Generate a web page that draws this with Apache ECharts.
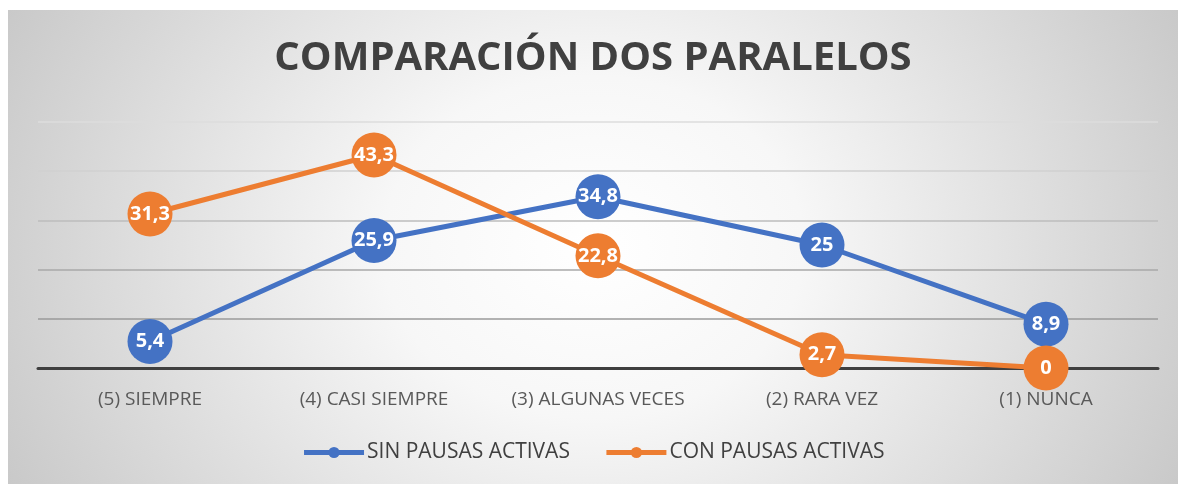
<!DOCTYPE html>
<html>
<head>
<meta charset="utf-8">
<script src="https://cdn.jsdelivr.net/npm/echarts@6/dist/echarts.min.js"></script>
<style>
  html, body { margin: 0; padding: 0; background: #fff; }
  #chart {
    position: absolute; left: 8px; top: 10px; width: 1170px; height: 474px;
    background: radial-gradient(ellipse 60% 120% at 50% 50%, #ffffff 0%, #f7f7f7 30%, #c4c4c4 100%);
  }
</style>
</head>
<body>
<div id="chart"></div>
<script>
  // datos
  var categories = ['(5) SIEMPRE', '(4) CASI SIEMPRE', '(3) ALGUNAS VECES', '(2) RARA VEZ', '(1) NUNCA']
  var sinPausas = [5.4, 25.9, 34.8, 25, 8.9]
  var conPausas = [31.3, 43.3, 22.8, 2.7, 0]
  var seriesNames = ['SIN PAUSAS ACTIVAS', 'CON PAUSAS ACTIVAS']

  var chart = echarts.init(document.getElementById('chart'))

  var labelOption = {
    show: true,
    position: 'inside',
    color: '#fff',
    fontWeight: 'bold',
    fontSize: 20,
    fontFamily: 'Open Sans',
    formatter: function (p) {
      return String(p.value).replace('.', ',')
    }
  }

  chart.setOption({
    backgroundColor: 'transparent',
    color: ['#4472c4', '#ed7d31'],
    title: {
      text: 'COMPARACIÓN DOS PARALELOS',
      left: 'center',
      top: 24,
      textStyle: {
        fontFamily: 'Open Sans',
        fontWeight: 'bold',
        fontSize: 40,
        color: '#404040'
      }
    },
    legend: {
      data: seriesNames,
      bottom: 16,
      left: 'center',
      itemWidth: 60,
      itemHeight: 14,
      itemGap: 34,
      lineStyle: { width: 5 },
      textStyle: { fontSize: 21, color: '#404040', fontFamily: 'Open Sans', padding: [0, 0, 0, -2] }
    },
    grid: { left: 30, right: 20, top: 112, bottom: 116 },
    xAxis: {
      type: 'category',
      data: categories,
      axisTick: { show: false },
      axisLine: { lineStyle: { color: '#3f3f3f', width: 3 } },
      axisLabel: { interval: 0, fontSize: 19, color: '#595959', margin: 22, fontFamily: 'Open Sans' }
    },
    yAxis: {
      type: 'value',
      min: 0,
      max: 50,
      interval: 10,
      axisLabel: { show: false },
      axisLine: { show: false },
      axisTick: { show: false },
      splitLine: {
        lineStyle: {
          color: ['#3f3f3f', '#9a9a9a', '#a8a8a8', '#bdbdbd', '#d0d0d0', '#dcdcdc'],
          width: 1.5
        }
      }
    },
    series: [
      {
        name: seriesNames[0],
        type: 'line',
        data: sinPausas,
        symbol: 'circle',
        symbolSize: 45,
        lineStyle: { width: 5 },
        label: labelOption,
        z: 3
      },
      {
        name: seriesNames[1],
        type: 'line',
        data: conPausas,
        symbol: 'circle',
        symbolSize: 45,
        lineStyle: { width: 5 },
        label: labelOption,
        z: 4
      }
    ]
  })
</script>
</body>
</html>
